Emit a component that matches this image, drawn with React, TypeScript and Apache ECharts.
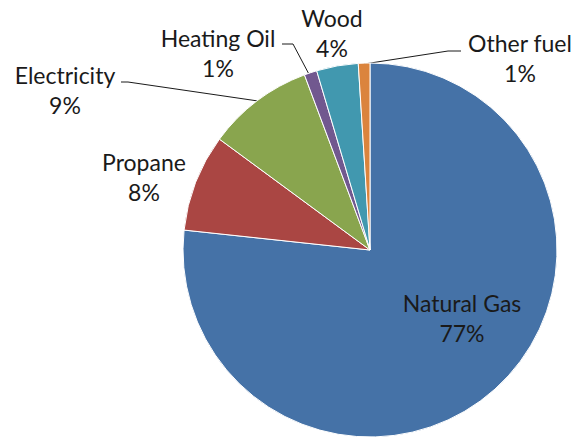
import React, { useEffect, useRef } from "react";
import * as echarts from "echarts";

const categories = ["Natural Gas", "Propane", "Electricity", "Heating Oil", "Wood", "Other fuel"];
const values = [76.7, 8.4, 9.2, 1.1, 3.6, 1.0];
const colors = ["#4572A7", "#AA4643", "#89A54E", "#71588F", "#4198AF", "#DB843D"];
const showLines = [false, false, true, true, false, true];

// label layout positions (pixels)
const labelPos: [number, number][] = [
  [462, 318],
  [144, 177],
  [65, 90],
  [218, 53],
  [332, 33],
  [520, 58],
];
const linePts: (number[][] | null)[] = [
  null,
  null,
  [[258, 101], [128, 82], [121, 82]],
  [[311, 78], [293, 44], [282, 44]],
  null,
  [[364, 64], [448, 51], [461, 51]],
];

export default function App() {
  const ref = useRef<HTMLDivElement>(null);
  useEffect(() => {
    document.body.style.margin = "0";
    const chart = echarts.init(ref.current!, undefined, { renderer: "svg" });
    chart.setOption({
      animation: false,
      backgroundColor: "#ffffff",
      series: [
        {
          type: "pie",
          center: [370, 250],
          radius: 187,
          startAngle: 90,
          clockwise: true,
          avoidLabelOverlap: false,
          itemStyle: { borderColor: "#ffffff", borderWidth: 1 },
          label: {
            show: true,
            position: "outside",
            fontFamily: "Lato, 'Open Sans', sans-serif",
            fontSize: 23,
            lineHeight: 30,
            color: "#1a1a1a",
            align: "center",
            formatter: (p: any) => `${p.name}\n${Math.round(p.value)}%`,
          },
          labelLine: { show: true, lineStyle: { color: "#1a1a1a", width: 1 } },
          labelLayout: (params: any) => {
            const i = params.dataIndex;
            const o: any = {
              x: labelPos[i][0],
              y: labelPos[i][1],
              align: "center",
              verticalAlign: "middle",
            };
            if (linePts[i]) o.labelLinePoints = linePts[i];
            return o;
          },
          data: categories.map((c, i) => ({
            name: c,
            value: values[i],
            itemStyle: { color: colors[i] },
            labelLine: { show: showLines[i] },
          })),
        },
      ],
    });
    return () => chart.dispose();
  }, []);
  return <div ref={ref} style={{ width: 578, height: 439 }} />;
}
